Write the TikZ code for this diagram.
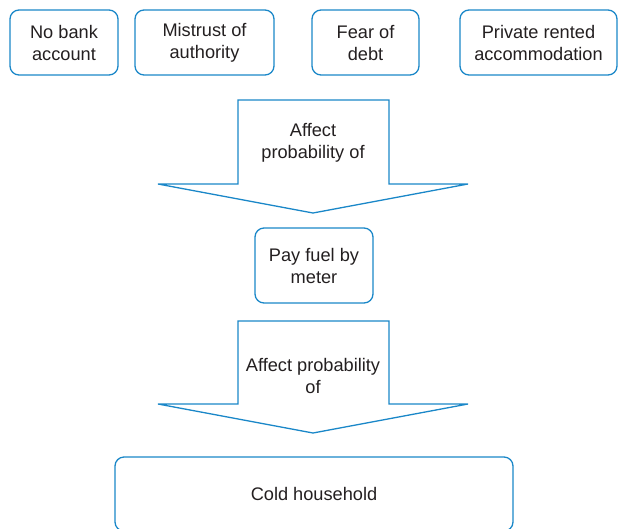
\documentclass[tikz,border=0pt]{standalone}
\usepackage{fontspec}
\setmainfont{Liberation Sans}
\definecolor{edgeblue}{HTML}{1A87C8}
\definecolor{inktext}{HTML}{231F20}
\begin{document}
\begin{tikzpicture}[x=1pt,y=-1pt,
  cause/.style={draw=edgeblue, line width=1.3pt, rounded corners=9pt, align=center,
    text=inktext, inner sep=0pt, font=\fontsize{18.2}{22}\selectfont},
  bigarrow/.style={draw=edgeblue, line width=1.3pt, line join=miter},
  label/.style={align=center, text=inktext, inner sep=0pt, font=\fontsize{18.2}{22}\selectfont}]
\useasboundingbox (0,0) rectangle (618,528);
\node[cause, minimum width=108pt, minimum height=65pt] (bank) at (64,42.5) {No bank\\account};
\node[cause, minimum width=139pt, minimum height=65pt] (mistrust) at (204.5,42.5) {Mistrust of\\authority};
\node[cause, minimum width=107pt, minimum height=65pt] (debt) at (365.5,42.5) {Fear of\\debt};
\node[cause, minimum width=157pt, minimum height=65pt] (rented) at (538.5,42.5) {Private rented\\accommodation};
\node[cause, minimum width=118pt, minimum height=75pt] (meter) at (314,265.5) {Pay fuel by\\meter};
\node[cause, minimum width=398pt, minimum height=74pt] (cold) at (314,494) {Cold household};
\draw[bigarrow] (238,100) -- (389,100) -- (389,184) -- (468,184) -- (313,213) -- (158,184) -- (238,184) -- cycle;
\node[label] (affect1) at (313,142.5) {Affect\\probability of};
\draw[bigarrow] (238,321) -- (389,321) -- (389,404) -- (468,404) -- (313,433) -- (158,404) -- (238,404) -- cycle;
\node[label] (affect2) at (313,376) {Affect probability\\of};
\end{tikzpicture}
\end{document}
